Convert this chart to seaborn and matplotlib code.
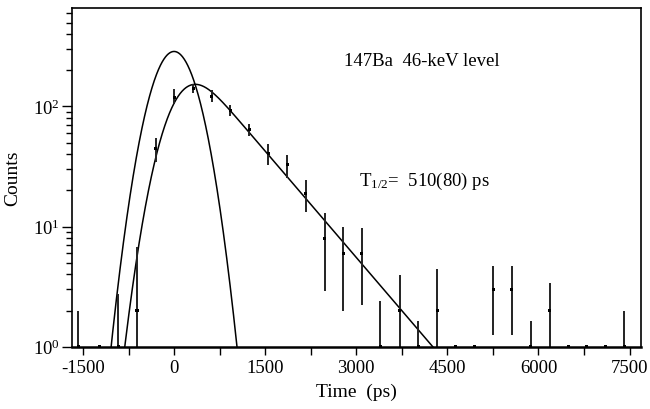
import math
import numpy as np
import pandas as pd
import matplotlib
matplotlib.use("Agg")
import matplotlib.pyplot as plt
from matplotlib.ticker import MultipleLocator, FixedLocator, LogLocator, LogFormatterMathtext, NullFormatter, FuncFormatter
import seaborn as sns

# bin centres (ps) and counts
time_ps = [-1580, -1225, -918, -610, -301, 5, 318, 621, 928, 1241, 1554, 1862,
           2170, 2477, 2784, 3092, 3399, 3712, 4020, 4333, 4640, 4942, 5255,
           5563, 5876, 6183, 6491, 6798, 7100, 7414]
counts = [1, 0, 1, 2, 45, 118, 142, 122, 92.6, 64, 40.4, 32.9,
          19.0, 8.0, 6.0, 6.0, 1, 2, 1, 2, 0, 0, 3,
          3, 1, 2, 0, 0, 0, 1]
bar_hi = [2.0, 0, 2.75, 6.7, 54.8, 140, 154.6, 136, 102, 71.8, 48.9, 39.1,
          24.5, 12.9, 9.9, 9.7, 2.4, 3.96, 1.63, 4.4, 0, 0, 4.7,
          4.7, 1.63, 3.37, 0, 0, 0, 1.97]
bar_lo = [0.5, 0, 0.5, 0.5, 34.8, 105, 129.4, 108.8, 83.2, 56.7, 32.7, 25.5,
          13.2, 2.9, 2.0, 2.24, 0.5, 0.5, 0.5, 0.5, 0, 0, 1.26,
          1.26, 0.5, 0.5, 0, 0, 0, 0.5]

# fit parameters
PROMPT_AMP = 287.0
PROMPT_SIGMA = 308.0
DELAYED_AMP = 295.0
DELAYED_T0 = 10.0
HALF_LIFE = 510.0

X_MIN, X_MAX = -1680, 7680
Y_MIN, Y_MAX = 1.0, 660.0

sns.set_theme(style="ticks")
plt.rcParams["font.family"] = ["Liberation Serif", "DejaVu Serif"]
plt.rcParams["mathtext.fontset"] = "custom"
plt.rcParams["mathtext.rm"] = "Liberation Serif"
plt.rcParams["mathtext.it"] = "Liberation Serif:italic"
plt.rcParams["axes.unicode_minus"] = False
plt.rcParams["text.color"] = "black"
plt.rcParams["axes.labelcolor"] = "black"

spec = pd.DataFrame({"t": time_ps, "n": counts, "hi": bar_hi, "lo": bar_lo})

tt = np.linspace(X_MIN, X_MAX, 2000)
prompt = PROMPT_AMP * np.exp(-tt ** 2 / (2 * PROMPT_SIGMA ** 2))
tau = HALF_LIFE / math.log(2)
s = PROMPT_SIGMA / tau
u = (tt - DELAYED_T0) / tau
z = (s - (tt - DELAYED_T0) / PROMPT_SIGMA) / math.sqrt(2)
erfc_z = np.array([math.erfc(v) for v in z])
delayed = DELAYED_AMP * np.exp(np.clip(s ** 2 / 2 - u, -700, 700)) * 0.5 * erfc_z
curves = pd.DataFrame({
    "t": np.concatenate([tt, tt]),
    "y": np.concatenate([np.where(prompt > 0.3, prompt, np.nan),
                         np.where(delayed > 0.3, delayed, np.nan)]),
    "curve": ["prompt"] * len(tt) + ["delayed"] * len(tt),
})

fig = plt.figure(figsize=(6.5, 4.1), dpi=100)
ax = fig.add_axes([0.1108, 0.152, 0.8746, 0.826])

sns.lineplot(data=curves, x="t", y="y", units="curve", estimator=None,
             color="black", linewidth=1.1, ax=ax, sort=False)

bars = spec[spec["hi"] > 0]
ax.vlines(bars["t"], bars["lo"], bars["hi"], color="#222222", linewidth=1.4)
pts = spec.assign(n=spec["n"].clip(lower=Y_MIN))
sns.scatterplot(data=pts, x="t", y="n", marker="s", s=5, color="black",
                edgecolor="none", ax=ax, clip_on=False, zorder=3)

ax.set_yscale("log")
ax.set_xlim(X_MIN, X_MAX)
ax.set_ylim(Y_MIN, Y_MAX)

ax.xaxis.set_major_locator(MultipleLocator(750))
ax.xaxis.set_major_formatter(FuncFormatter(
    lambda v, p: f"{int(round(v))}" if int(round(v)) % 1500 == 0 else ""))
ax.yaxis.set_major_locator(FixedLocator([1, 10, 100]))
ax.yaxis.set_major_formatter(LogFormatterMathtext())
ax.yaxis.set_minor_locator(LogLocator(base=10, subs=np.arange(2, 10)))
ax.yaxis.set_minor_formatter(NullFormatter())

ax.tick_params(axis="x", which="major", direction="out", length=6, width=1,
               labelsize=13.5, pad=3, colors="black")
ax.tick_params(axis="y", which="major", direction="out", length=7, width=1,
               labelsize=13.5, pad=2, colors="black")
ax.tick_params(axis="y", which="minor", direction="out", length=4, width=1,
               colors="black")
for side in ["top", "right", "bottom", "left"]:
    ax.spines[side].set_visible(True)
    ax.spines[side].set_color("black")
    ax.spines[side].set_linewidth(1.2)
ax.spines["bottom"].set_linewidth(1.8)

ax.set_xlabel("Time  (ps)", fontsize=14, labelpad=5, color="black")
ax.set_ylabel("Counts", fontsize=14, labelpad=8, color="black")

ax.text(0.479, 0.845, "147Ba  46-keV level", transform=ax.transAxes,
        fontsize=13.5, ha="left", va="center", color="black")
ax.text(0.505, 0.49, "T$_{1/2}$=  510(80) ps", transform=ax.transAxes,
        fontsize=13.5, ha="left", va="center", color="black")

fig.savefig("out.png", dpi=100)
